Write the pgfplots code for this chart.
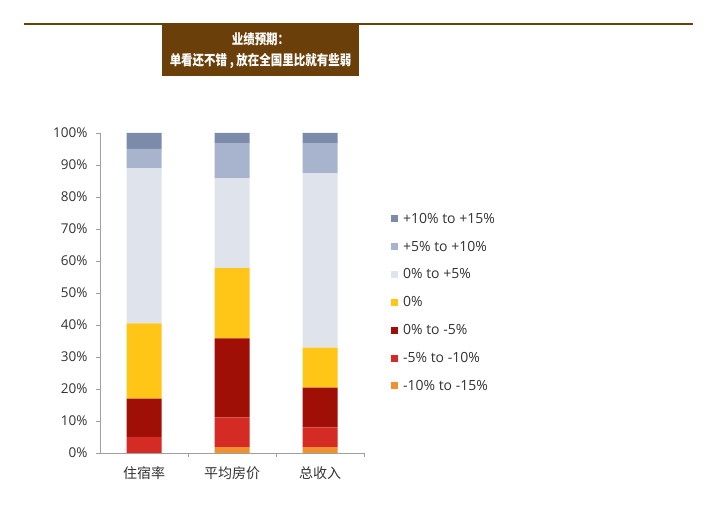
\documentclass[border=0pt]{standalone}
\usepackage{pgfplots}
\pgfplotsset{compat=1.18}
\usepackage{fontspec}
\setmainfont{Open Sans}
\newfontfamily\cjk{Noto Sans CJK SC}
\newfontfamily\cjkt[FakeStretch=0.82]{Noto Sans CJK SC}
\definecolor{brownT}{HTML}{6B3F0A}
\definecolor{cA}{HTML}{7D8BAA}
\definecolor{cB}{HTML}{A8B4CD}
\definecolor{cC}{HTML}{DFE3EC}
\definecolor{cD}{HTML}{FFC517}
\definecolor{cE}{HTML}{A00F06}
\definecolor{cF}{HTML}{D52B25}
\definecolor{cG}{HTML}{EE912E}
\definecolor{txt}{HTML}{333333}
\definecolor{axc}{HTML}{A0A0A0}
\pgfplotsset{sq/.style={legend image code/.code={\fill[##1] (0bp,-3.5bp) rectangle (7bp,3.5bp); \path (11bp,0bp);}}}
\begin{document}
\begin{tikzpicture}
\path[use as bounding box] (0,0) rectangle (720bp,507bp);
\fill[white] (0,0) rectangle (720bp,507bp);
\draw[brownT, line width=2bp] (24bp,482.5bp) -- (693bp,482.5bp);
\fill[brownT] (162bp,431bp) rectangle (359bp,483bp);
\node[text=white, font=\cjkt\bfseries\fontsize{14bp}{16bp}\selectfont] at (260.5bp,468bp) {业绩预期：};
\node[text=white, font=\cjkt\bfseries\fontsize{14bp}{16bp}\selectfont] at (260.5bp,446bp) {单看还不错 , 放在全国里比就有些弱};
\begin{axis}[
  at={(100bp,54bp)}, anchor=south west,
  scale only axis, width=264bp, height=320bp,
  ybar stacked, bar width=35bp,
  xmin=-0.5, xmax=2.5, ymin=0, ymax=100,
  axis lines=left, axis line style={draw=axc, -},
  xtick={0,1,2},
  xticklabels={{\cjk 住宿率},{\cjk 平均房价},{\cjk 总收入}},
  major x tick style={draw=none},
  minor xtick={0.5,1.5,2.5},
  minor x tick style={draw=axc},
  minor tick length=4bp,
  ytick={0,10,...,100},
  yticklabel={\pgfmathprintnumber{\tick}\%},
  ytick style={draw=axc},
  major tick length=4bp,
  tick align=outside,
  /pgf/number format/assume math mode=true,
  ticklabel style={font=\fontsize{13.5bp}{15bp}\selectfont, text=txt},
  yticklabel style={xshift=-5bp},
  xticklabel style={yshift=-6bp, font=\fontsize{14bp}{16bp}\selectfont},
  legend style={draw=none, fill=none, at={(axis description cs:1.1,0.755)}, anchor=north west,
    font=\fontsize{14bp}{16bp}\selectfont, text=txt, row sep=13.2bp, inner sep=0pt,
    nodes={inner sep=1.5bp, anchor=west}},
  legend cell align=left,
  reverse legend,
]
\addplot[fill=cG, draw=none, sq] coordinates {(0,0) (1,1.8) (2,1.8)};
\addplot[fill=cF, draw=none, sq] coordinates {(0,5) (1,9.3) (2,6.2)};
\addplot[fill=cE, draw=none, sq] coordinates {(0,12) (1,24.7) (2,12.4)};
\addplot[fill=cD, draw=none, sq] coordinates {(0,23.5) (1,22) (2,12.5)};
\addplot[fill=cC, draw=none, sq] coordinates {(0,48.5) (1,28) (2,54.5)};
\addplot[fill=cB, draw=none, sq] coordinates {(0,6) (1,11) (2,9.4)};
\addplot[fill=cA, draw=none, sq] coordinates {(0,5) (1,3.2) (2,3.2)};
\legend{-10\% to -15\%,-5\% to -10\%,0\% to -5\%,0\%,0\% to +5\%,+5\% to +10\%,+10\% to +15\%}
\end{axis}
\end{tikzpicture}
\end{document}
